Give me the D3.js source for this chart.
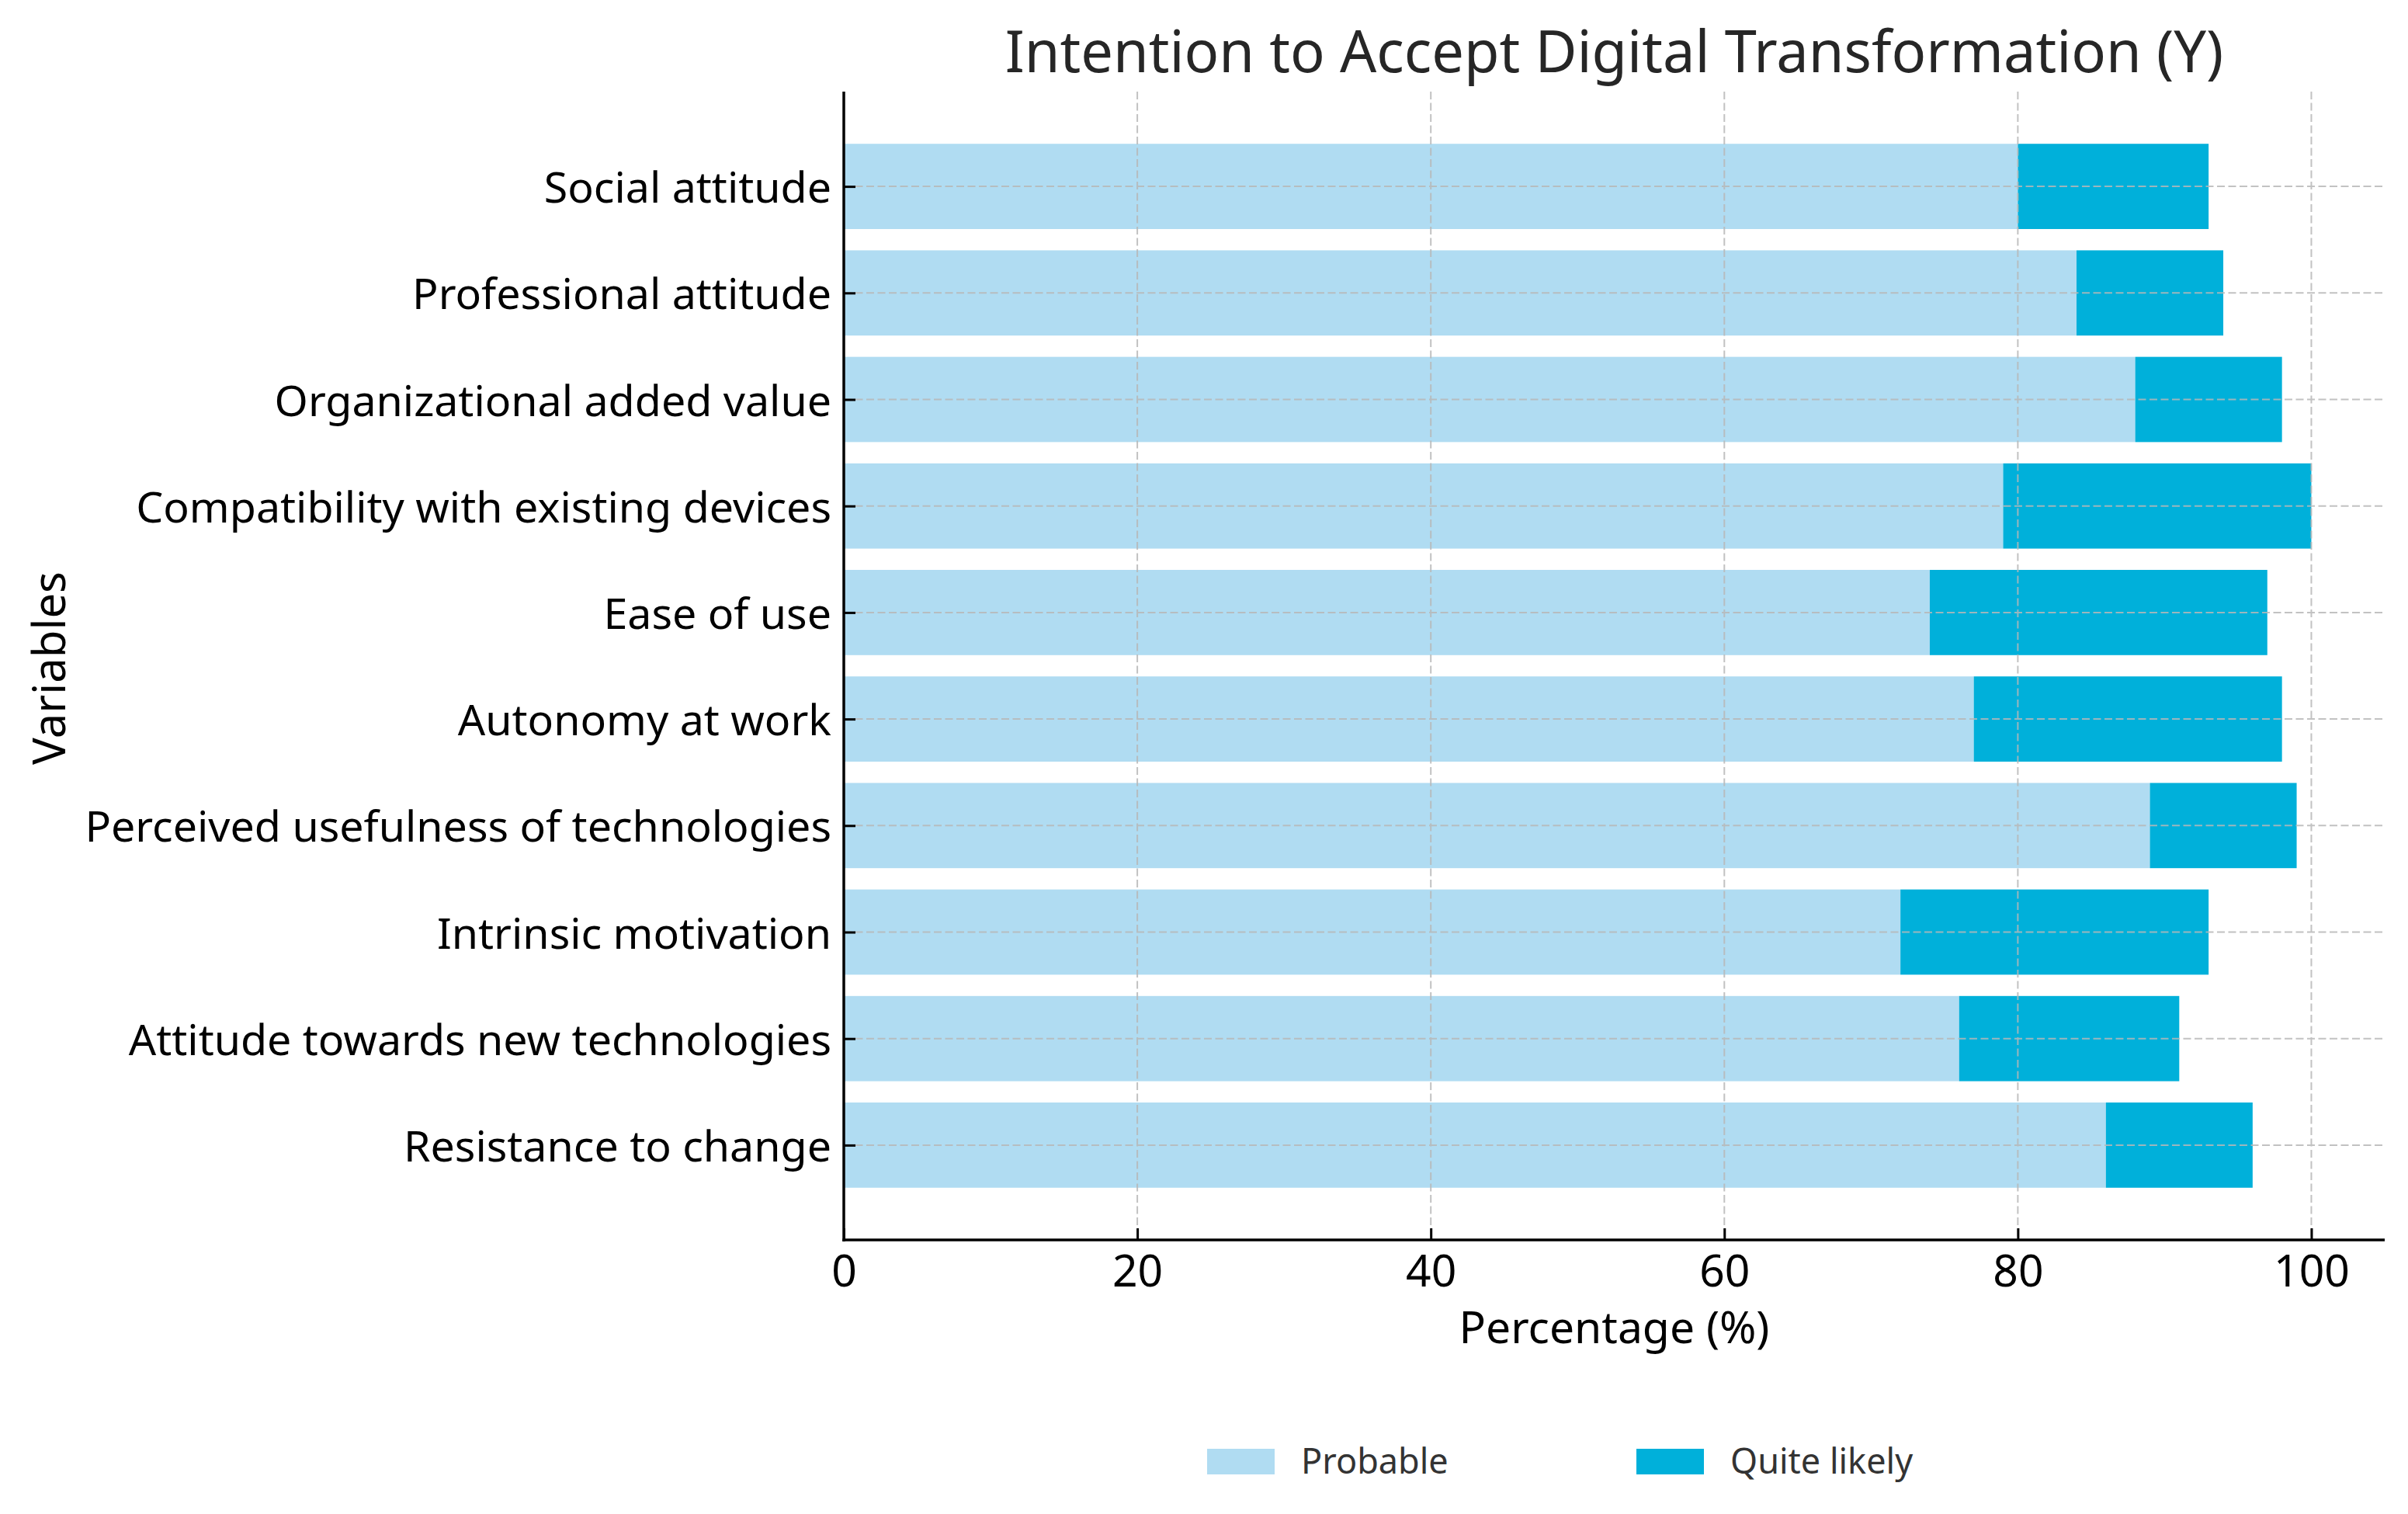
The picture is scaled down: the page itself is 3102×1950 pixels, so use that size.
<!DOCTYPE html>
<html><head><meta charset="utf-8">
<script src="https://cdn.jsdelivr.net/npm/d3@7/dist/d3.min.js"></script>
<style>body{margin:0;background:#fff}svg{display:block}text{font-family:"Noto Sans","Open Sans",sans-serif}</style>
</head><body><svg id="c" width="3102" height="1950"></svg>
<script>
const categories = ["Resistance to change","Attitude towards new technologies","Intrinsic motivation","Perceived usefulness of technologies","Autonomy at work","Ease of use","Compatibility with existing devices","Organizational added value","Professional attitude","Social attitude"];
const probable = [86,76,72,89,77,74,79,88,84,80];
const quiteLikely = [10,15,21,10,21,23,21,10,10,13];
const xTicks = [0,20,40,60,80,100];
const seriesNames = ["Probable","Quite likely"];
const colors = ["#b0dcf2","#00b0da"];

const svg = d3.select("#c");
const L=1087,R=3072,T=118,B=1597;
const x = d3.scaleLinear().domain([0,105]).range([L,R]);
const y = d3.scaleLinear().domain([-0.89,9.89]).range([B,T]);
const bh = (y(0)-y(0.8));

const g = svg.append("g");
categories.forEach((c,i)=>{
  g.append("rect").attr("x",x(0)).attr("y",y(i)-bh/2).attr("width",x(probable[i])-x(0)).attr("height",bh).attr("fill",colors[0]);
  g.append("rect").attr("x",x(probable[i])).attr("y",y(i)-bh/2).attr("width",x(probable[i]+quiteLikely[i])-x(probable[i])).attr("height",bh).attr("fill",colors[1]);
});
// grid
const grid = svg.append("g").attr("stroke","#b8b8b8").attr("stroke-width",2).attr("stroke-dasharray","10,4.5").attr("opacity",0.85);
xTicks.forEach(t=>grid.append("line").attr("x1",x(t)).attr("x2",x(t)).attr("y1",T).attr("y2",B));
categories.forEach((c,i)=>grid.append("line").attr("x1",L).attr("x2",R).attr("y1",y(i)).attr("y2",y(i)));

// axes
const xa = svg.append("g").attr("transform",`translate(0,${B})`).call(d3.axisBottom(x).tickValues(xTicks).tickSize(-15).tickPadding(0).tickFormat(d3.format("d")));
xa.select(".domain").remove();
xa.selectAll(".tick line").attr("stroke","#000").attr("stroke-width",3);
xa.selectAll(".tick text").attr("y",60).attr("dy",null).attr("font-size",57).attr("fill","#000").style("font-family","Noto Sans");
const ya = svg.append("g").attr("transform",`translate(${L},0)`).call(d3.axisLeft(y).tickValues(d3.range(categories.length)).tickSize(-15).tickPadding(0).tickFormat(i=>categories[i]));
ya.select(".domain").remove();
ya.selectAll(".tick line").attr("stroke","#000").attr("stroke-width",3);
ya.selectAll(".tick text").attr("x",-16).attr("dy","0.37em").attr("font-size",55.5).attr("fill","#000").style("font-family","Noto Sans");
svg.append("line").attr("x1",L).attr("x2",L).attr("y1",T).attr("y2",B+2).attr("stroke","#000").attr("stroke-width",3.5);
svg.append("line").attr("x1",L-1.75).attr("x2",R).attr("y1",B).attr("y2",B).attr("stroke","#000").attr("stroke-width",3.5);

svg.append("text").attr("x",(L+R)/2).attr("y",93).attr("text-anchor","middle").attr("font-size",74).attr("fill","#262626").text("Intention to Accept Digital Transformation (Y)");
svg.append("text").attr("x",(L+R)/2).attr("y",1730).attr("text-anchor","middle").attr("font-size",57).attr("fill","#000").text("Percentage (%)");
svg.append("text").attr("transform",`translate(84,${(T+B)/2+3}) rotate(-90)`).attr("text-anchor","middle").attr("font-size",58).attr("fill","#000").text("Variables");

// legend
const lg = svg.append("g");
const lx=[1555,2108];
seriesNames.forEach((s,i)=>{
  lg.append("rect").attr("x",lx[i]).attr("y",1866).attr("width",87).attr("height",33).attr("fill",colors[i]);
  lg.append("text").attr("x",lx[i]+121).attr("y",1898).attr("font-size",45).attr("fill","#333").text(s);
});
</script></body></html>
